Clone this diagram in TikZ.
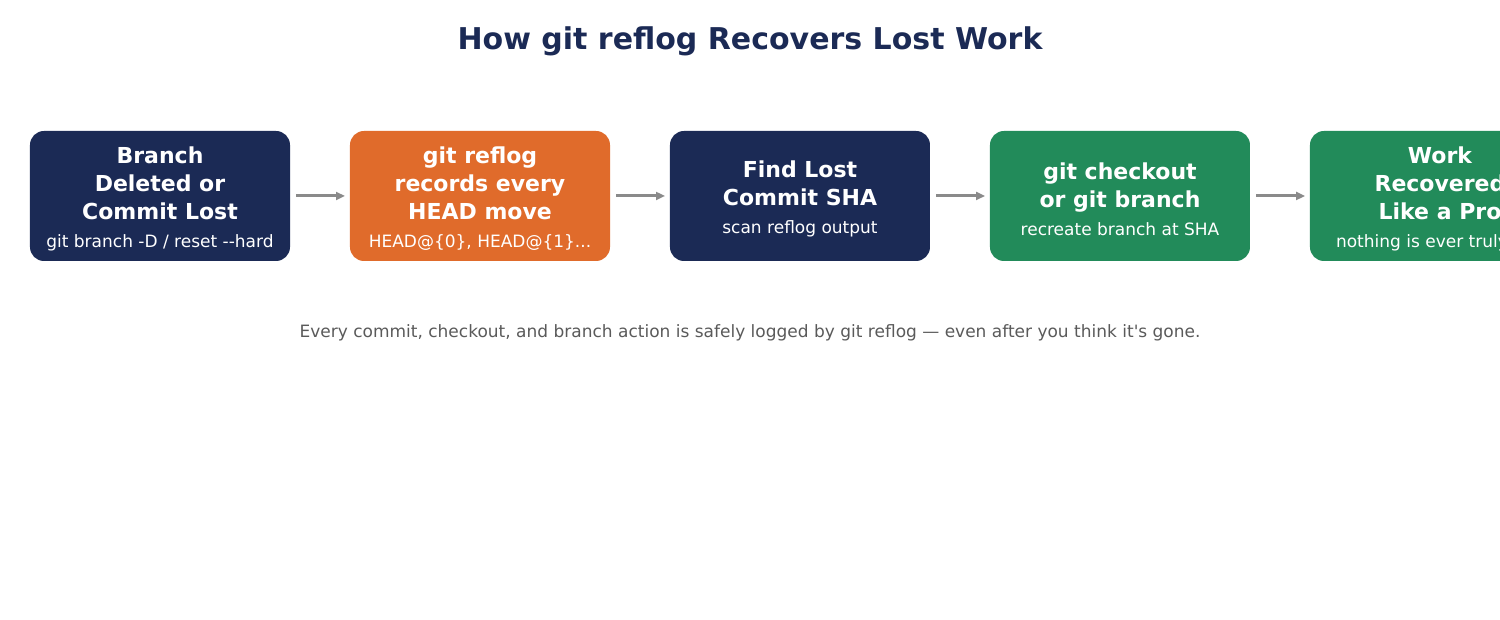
\documentclass[tikz,border=0pt]{standalone}
\usepackage{fontspec}
\setmainfont{DejaVu Sans}[Ligatures=TeXOff]
\usetikzlibrary{arrows.meta,positioning,matrix}
\definecolor{navy}{HTML}{1B2A55}
\definecolor{rust}{HTML}{E06B2B}
\definecolor{leaf}{HTML}{228B5A}
\definecolor{flowgray}{HTML}{8A8A8A}
\definecolor{notegray}{HTML}{5A5A5A}
\newcommand{\stagetop}{\rule{0pt}{22.7pt}}
\newcommand{\stagenote}[1]{{\fontsize{17}{26}\selectfont\mdseries #1}}
\tikzset{
  stage/.style={rounded corners=14pt,minimum width=260pt,minimum height=130pt,
    align=center,text=white,inner sep=0pt,outer sep=0pt,
    font=\fontsize{22}{28}\selectfont\bfseries},
  flow/.style={-{Triangle[length=9pt,width=8pt]},draw=flowgray,line width=3pt,
    shorten <=6pt,shorten >=5pt}
}
\begin{document}
\begin{tikzpicture}[x=1pt,y=-1pt]
\useasboundingbox (0,0) rectangle (1500,620);
\node[text=navy,font=\fontsize{30}{34}\selectfont\bfseries] (title) at (750,41)
  {How git reflog Recovers Lost Work};
\matrix (steps) [column sep=60pt] at (800,196)
{
\node[stage,fill=navy] (lost) {\stagetop Branch\\Deleted or\\Commit Lost\\
  \stagenote{git branch -D / reset --hard}}; &
\node[stage,fill=rust] (reflog) {\stagetop git reflog\\records every\\HEAD move\\
  \stagenote{HEAD@\{0\}, HEAD@\{1\}...}}; &
\node[stage,fill=navy] (find) {\stagetop Find Lost\\Commit SHA\\
  \stagenote{scan reflog output}}; &
\node[stage,fill=leaf] (checkout) {\stagetop git checkout\\or git branch\\
  \stagenote{recreate branch at SHA}}; &
\node[stage,fill=leaf] (done) {\stagetop Work\\Recovered\\Like a Pro\\
  \stagenote{nothing is ever truly lost}}; \\
};
\begin{scope}[every path/.style={flow}]
\draw (lost) -- (reflog);
\draw (reflog) -- (find);
\draw (find) -- (checkout);
\draw (checkout) -- (done);
\end{scope}
\node[text=notegray,font=\fontsize{17}{20}\selectfont] (caption) at (750,333)
  {Every commit, checkout, and branch action is safely logged by git reflog — even after you think it's gone.};
\end{tikzpicture}
\end{document}
